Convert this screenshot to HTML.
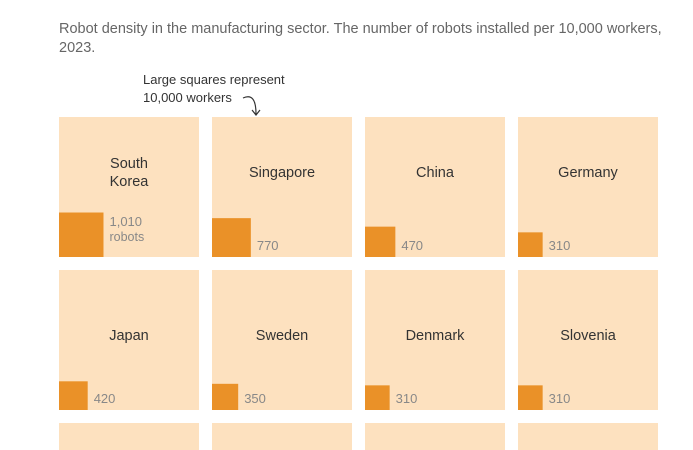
<!DOCTYPE html>
<html><head><meta charset="utf-8"><style>
html,body{margin:0;background:#fff;width:693px;height:450px;overflow:hidden;font-family:"Liberation Sans",sans-serif;}
#title{position:absolute;left:59px;top:20px;width:610px;font-size:14.5px;line-height:19px;color:#666;}
svg{position:absolute;left:0;top:0;}
</style></head><body>
<div id="title">Robot density in the manufacturing sector. The number of robots installed per 10,000 workers, 2023.</div>
<svg id="chart" width="693" height="450"></svg>
<script>
const countries=["South Korea","Singapore","China","Germany","Japan","Sweden","Denmark","Slovenia","","","",""];
const values=[1010,770,470,310,420,350,310,310,0,0,0,0];
const labels=["1,010","770","470","310","420","350","310","310","","","",""];
const NS="http://www.w3.org/2000/svg";
const svg=document.getElementById('chart');
const S=140,G=13,X0=59,Y0=117,FULL=10000;
function side(v){return S*Math.sqrt(v/FULL);}
function mk(t,a){const e=document.createElementNS(NS,t);for(const k in a)e.setAttribute(k,a[k]);svg.appendChild(e);return e;}
countries.forEach((c,i)=>{
  const row=Math.floor(i/4);
  const x=X0+(i%4)*(S+G),y=Y0+row*(S+G);
  const big=mk('rect',{x:x,y:y,width:S,height:S,fill:'#fde1bf'});
  
  
  if(!c)return;
  const s=side(values[i]);
  const sm=mk('rect',{x:x,y:y+S-s,width:s,height:s,fill:'#ea9128'});
  
  
  const parts=c==="South Korea"?["South","Korea"]:[c];
  const base=row===0?60:70;
  const cy=y+base-(parts.length-1)*9;
  parts.forEach((p,j)=>{
    const t=mk('text',{x:x+S/2,y:cy+j*18,'text-anchor':'middle','font-size':'14.5',fill:'#333'});
    t.textContent=p;
    
    
  });
  if(i===0){
    const t1=mk('text',{x:x+s+6,y:y+S-31,'font-size':'13',fill:'#888'});t1.textContent=labels[i];
    
    
    const t2=mk('text',{x:x+s+6,y:y+S-16,'font-size':'12.5',fill:'#888'});t2.textContent="robots";
    
    
  } else {
    const t=mk('text',{x:x+s+6,y:y+S-7,'font-size':'13',fill:'#888'});t.textContent=labels[i];
    
    
  }
});
const a1=mk('text',{x:143,y:84,'font-size':'13',fill:'#333'});a1.textContent="Large squares represent";


const a2=mk('text',{x:143,y:102,'font-size':'13',fill:'#333'});a2.textContent="10,000 workers";


const ar=mk('path',{d:'M243 98 Q256 92 256 114 M252 110 L256 115 L260 110',fill:'none',stroke:'#333','stroke-width':'1.2'});


</script>
</body></html>
